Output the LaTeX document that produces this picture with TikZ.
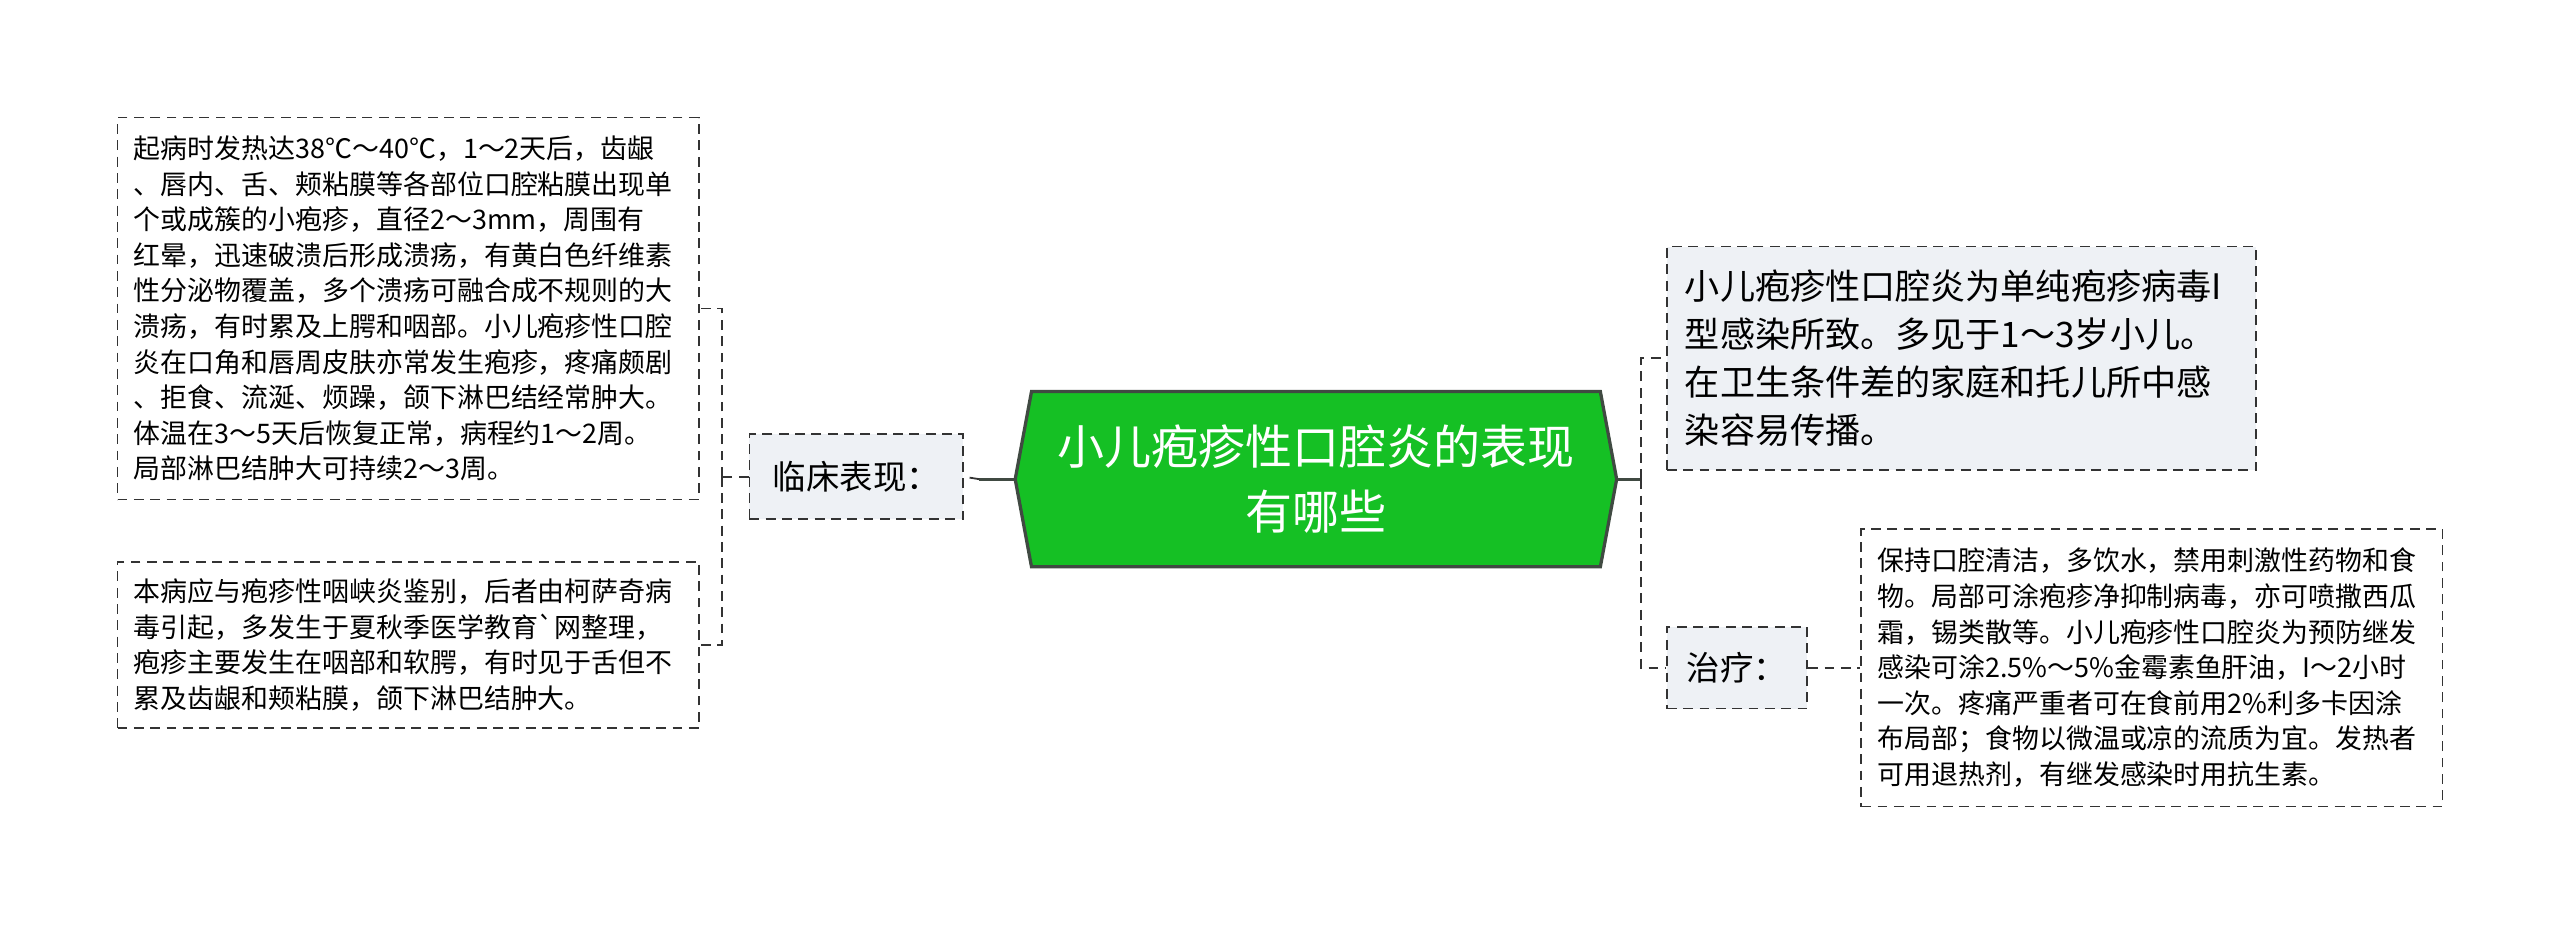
\documentclass[tikz,border=0pt]{standalone}
\usepackage{fontspec}
\newfontfamily\cjk{Noto Sans CJK SC}
\usetikzlibrary{backgrounds}

\definecolor{hubgreen}{HTML}{15C024}
\definecolor{hubline}{HTML}{404A42}
\definecolor{boxgray}{HTML}{EEF1F5}
\definecolor{inkgray}{HTML}{333333}

\tikzstyle{hub} = [text=white, font=\cjk\fontsize{28.8}{39.5}\selectfont, align=center,
    minimum width=348pt, minimum height=107pt, inner sep=0pt]
\tikzstyle{hubshape} = [fill=hubgreen, draw=hubline, line width=2pt, line join=miter]
\tikzstyle{branch} = [draw=inkgray, line width=1.1pt, dash pattern=on 6pt off 4pt,
    fill=boxgray, inner sep=0pt, font=\cjk\fontsize{20.5}{28}\selectfont]
\tikzstyle{note} = [draw=inkgray, line width=1.1pt, dash pattern=on 6pt off 4pt,
    fill=white, inner xsep=10pt, inner ysep=0pt, text width=336pt, align=left,
    minimum width=356pt, font=\cjk\fontsize{16.5}{21.8}\selectfont]
\tikzstyle{trunk} = [draw=hubline, line width=2pt]
\tikzstyle{twig} = [draw=inkgray, line width=1.1pt, dash pattern=on 6pt off 4pt]

\begin{document}
\begin{tikzpicture}[x=1pt, y=-1pt]
\begin{scope}[on background layer]
\fill[white] (0,0) rectangle (1568,567);
\end{scope}
\useasboundingbox (0,0) rectangle (1568,567);

% centre
\node[hub] (hub) at (806,293.5) {小儿疱疹性口腔炎的表现\\有哪些};
\begin{scope}[on background layer]
\filldraw[hubshape] ([xshift=-10pt]hub.west) -- (hub.north west) -- (hub.north east)
    -- ([xshift=10pt]hub.east) -- (hub.south east) -- (hub.south west) -- cycle;
\end{scope}

% left side
\node[branch, minimum width=131pt, minimum height=52pt] (clin) at (524.5,292) {临床表现：};
\node[note, minimum height=234pt] (clin1) at (250,189) {%
    起病时发热达38℃～40℃，1～2天后，齿龈\\
    、唇内、舌、颊粘膜等各部位口腔粘膜出现单\\
    个或成簇的小疱疹，直径2～3mm，周围有\\
    红晕，迅速破溃后形成溃疡，有黄白色纤维素\\
    性分泌物覆盖，多个溃疡可融合成不规则的大\\
    溃疡，有时累及上腭和咽部。小儿疱疹性口腔\\
    炎在口角和唇周皮肤亦常发生疱疹，疼痛颇剧\\
    、拒食、流涎、烦躁，颌下淋巴结经常肿大。\\
    体温在3～5天后恢复正常，病程约1～2周。\\
    局部淋巴结肿大可持续2～3周。};
\node[note, minimum height=102pt] (clin2) at (250,395) {%
    本病应与疱疹性咽峡炎鉴别，后者由柯萨奇病\\
    毒引起，多发生于夏秋季医学教育\symbol{96}网整理，\\
    疱疹主要发生在咽部和软腭，有时见于舌但不\\
    累及齿龈和颊粘膜，颌下淋巴结肿大。};

% right side
\node[branch, minimum width=361pt, minimum height=137pt, inner xsep=11pt,
    text width=339pt, align=left, font=\cjk\fontsize{21.5}{29.3}\selectfont]
    (cause) at (1201.5,219.5) {%
    小儿疱疹性口腔炎为单纯疱疹病毒I\\
    型感染所致。多见于1～3岁小儿。\\
    在卫生条件差的家庭和托儿所中感\\
    染容易传播。};
\node[branch, minimum width=86pt, minimum height=50pt] (cure) at (1064,409) {治疗：};
\node[note, minimum height=170pt] (cure1) at (1318,409) {%
    保持口腔清洁，多饮水，禁用刺激性药物和食\\
    物。局部可涂疱疹净抑制病毒，亦可喷撒西瓜\\
    霜，锡类散等。小儿疱疹性口腔炎为预防继发\\
    感染可涂2.5\%～5\%金霉素鱼肝油，I～2小时\\
    一次。疼痛严重者可在食前用2\%利多卡因涂\\
    布局部；食物以微温或凉的流质为宜。发热者\\
    可用退热剂，有继发感染时用抗生素。};

% connectors
\draw[trunk] ([xshift=-10pt]hub.west) -- ++(-22pt,0) coordinate (lj);
\draw[twig] (lj) -- (clin.east);
\coordinate (lk) at ([xshift=-16pt]clin.west);
\draw[twig] (clin.west) -- (lk);
\draw[twig] (lk) |- (clin1.east);
\draw[twig] (lk) |- (clin2.east);
\draw[trunk] ([xshift=10pt]hub.east) -- ++(15pt,0) coordinate (rj);
\draw[twig] (rj) |- (cause.west);
\draw[twig] (rj) |- (cure.west);
\draw[twig] (cure.east) -- (cure1.west);
\end{tikzpicture}
\end{document}
